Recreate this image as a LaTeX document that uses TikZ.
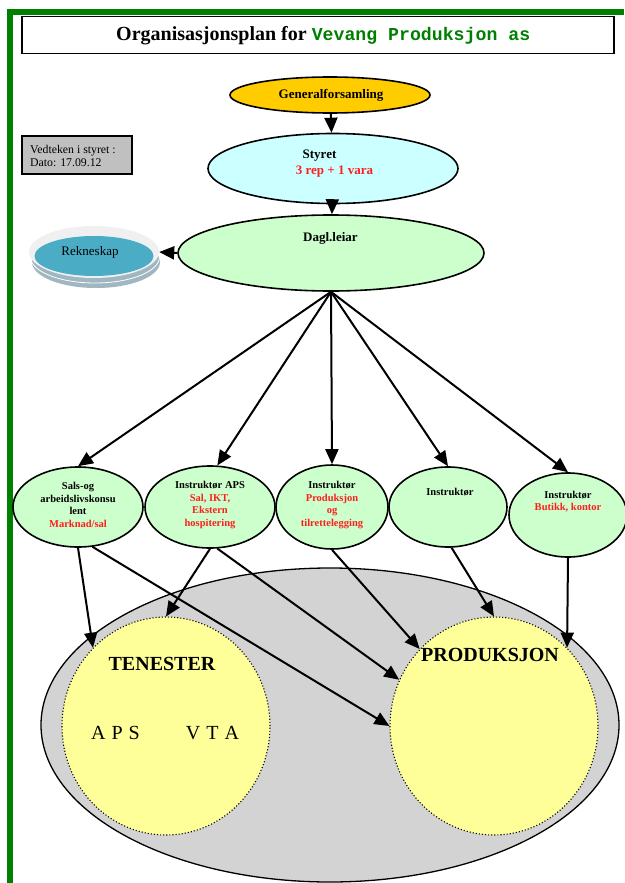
\documentclass[tikz,border=0pt]{standalone}
\usepackage{fontspec}
\setmainfont{Liberation Serif}
\newfontfamily\monof{Liberation Mono}
\usetikzlibrary{shapes.geometric,arrows.meta}
\definecolor{gold}{RGB}{255,204,0}
\definecolor{palecyan}{RGB}{204,255,255}
\definecolor{palegreen}{RGB}{204,255,204}
\definecolor{paleyellow}{RGB}{255,255,153}
\definecolor{bggrey}{RGB}{211,211,211}
\definecolor{boxgrey}{RGB}{192,192,192}
\definecolor{framegreen}{RGB}{0,128,0}
\definecolor{rekblue}{RGB}{75,172,198}
\definecolor{rekring}{RGB}{240,240,240}
\definecolor{rekshadow}{RGB}{160,182,192}
\definecolor{textred}{RGB}{255,30,30}
\begin{document}
\begin{tikzpicture}[x=1pt,y=-1pt,
  oval/.style={ellipse, draw=black, line width=1.6pt, inner sep=0pt},
  txt/.style={inner sep=0pt, align=center, font=\fontsize{10.5}{12.5}\selectfont\bfseries},
  bigtxt/.style={inner sep=0pt, align=center, font=\fontsize{13}{16}\selectfont\bfseries},
  circtxt/.style={inner sep=0pt, font=\fontsize{20}{24}\selectfont\bfseries},
  arr/.style={-{Triangle[length=15pt,width=13pt]}, line width=2pt},
  yel/.style={ellipse, draw=black, dotted, line width=1.1pt, fill=paleyellow, inner sep=0pt,
              minimum width=208pt, minimum height=218pt}]
\fill[white] (0,0) rectangle (624,883);
\useasboundingbox (0,0) rectangle (624,883);

% green frame
\fill[framegreen] (6.5,9.5) rectangle (624,15.5);
\fill[framegreen] (6.5,9.5) rectangle (12.5,883);

% title
\node[draw=black, line width=1.5pt, minimum width=592pt, minimum height=37pt, inner sep=0pt]
  (titlebox) at (318,35) {};
\node[anchor=base west, inner sep=0pt] (title) at (116,41)
  {\fontsize{20}{24}\selectfont\bfseries Organisasjonsplan for {\fontsize{18.2}{24}\monof\color{framegreen}Vevang Produksjon as}};

% note box
\node[draw=black, line width=1.6pt, fill=boxgrey, minimum width=110pt, minimum height=38pt, inner sep=0pt]
  (notebox) at (77,155) {};
\node[anchor=west, inner sep=0pt, align=left, font=\fontsize{11.8}{12.7}\selectfont]
  (notetxt) at (30,156) {Vedteken i styret :\\Dato: 17.09.12};

% top ellipses
\node[oval, fill=gold, minimum width=200pt, minimum height=36pt] (gen) at (330,95) {};
\node[bigtxt] (gentxt) at (331,95) {Generalforsamling};
\node[oval, fill=palecyan, minimum width=250pt, minimum height=70pt] (sty) at (333,168.5) {};
\node[bigtxt] (stytxt1) at (319.5,156) {Styret};
\node[bigtxt, text=textred] (stytxt2) at (334.5,172) {3 rep + 1 vara};
\node[oval, fill=palegreen, minimum width=306pt, minimum height=76pt] (dagl) at (331,253) {};
\node[bigtxt] (dagltxt) at (330.5,238) {Dagl.leiar};

% Rekneskap (stacked disk)
\fill[rekshadow] (96,262) ellipse [x radius=64, y radius=26];
\draw[white, line width=0.8pt] (95,257) ellipse [x radius=64.5, y radius=26];
\node[ellipse, fill=rekring, inner sep=0pt, minimum width=130pt, minimum height=52pt] (rek) at (94,252) {};
\fill[rekblue] (94,256) ellipse [x radius=59.5, y radius=20];
\node[inner sep=0pt, font=\fontsize{13}{15}\selectfont] (rektxt) at (90,252) {Rekneskap};

% second level
\node[oval, fill=palegreen, minimum width=130pt, minimum height=80pt] (sals) at (78,507) {};
\node[txt] (salstxt) at (78,505) {Sals-og\\arbeidslivskonsu\\lent\\\textcolor{textred}{Marknad/sal}};
\node[oval, fill=palegreen, minimum width=130pt, minimum height=82pt] (aps) at (210,507) {};
\node[txt] (apstxt) at (210,505) {Instruktør APS\\\textcolor{textred}{Sal, IKT,}\\\textcolor{textred}{Ekstern}\\\textcolor{textred}{hospitering}};
\node[oval, fill=palegreen, minimum width=112pt, minimum height=84pt] (pin) at (332,507) {};
\node[txt] (pintxt) at (332,505) {Instruktør\\\textcolor{textred}{Produksjon}\\\textcolor{textred}{og}\\\textcolor{textred}{tilrettelegging}};
\node[oval, fill=palegreen, minimum width=118pt, minimum height=80pt] (ins) at (448,507) {};
\node[txt] (instxt) at (450,492) {Instruktør};
\node[oval, fill=palegreen, minimum width=118pt, minimum height=84pt] (but) at (568,515) {};
\node[txt] (buttxt) at (568,501.5) {Instruktør\\\textcolor{textred}{Butikk, kontor}};

% lower group
\node[oval, fill=bggrey, line width=1.3pt, minimum width=578pt, minimum height=314pt] (grp) at (330,725) {};
\node[yel] (ten) at (166,726) {};
\node[yel] (prod) at (494,726) {};
\node[circtxt] (tentxt) at (162,664) {TENESTER};
\node[circtxt] (prodtxt) at (490,655) {PRODUKSJON};
\node[inner sep=0pt, font=\fontsize{20}{24}\selectfont] (apsl) at (115.5,733) {A\kern6pt P\kern6pt S};
\node[inner sep=0pt, font=\fontsize{20}{24}\selectfont] (vtal) at (212.5,733) {V\kern6pt T\kern6pt A};

% connectors
\draw[arr] (gen) -- (sty);
\draw[arr] (sty) -- (dagl);
\draw[arr] (dagl.west) -- (rek.east);
\draw[arr] (dagl.south) -- (sals.north);
\draw[arr] (dagl.south) -- (aps.80);
\draw[arr] (dagl.south) -- (pin.north);
\draw[arr] (dagl.south) -- (ins.north);
\draw[arr] (dagl.south) -- (but.north);

\draw[arr] (sals.south) -- (ten.133);
\draw[arr] (sals.-70) -- (prod.west);
\draw[arr] (aps.south) -- (ten.north);
\draw[arr] (aps.-80) -- (prod.154);
\draw[arr] (pin.south) -- (prod.134);
\draw[arr] (ins.-85) -- (prod.north);
\draw[arr] (but.south) -- (prod.47);
\end{tikzpicture}
\end{document}
